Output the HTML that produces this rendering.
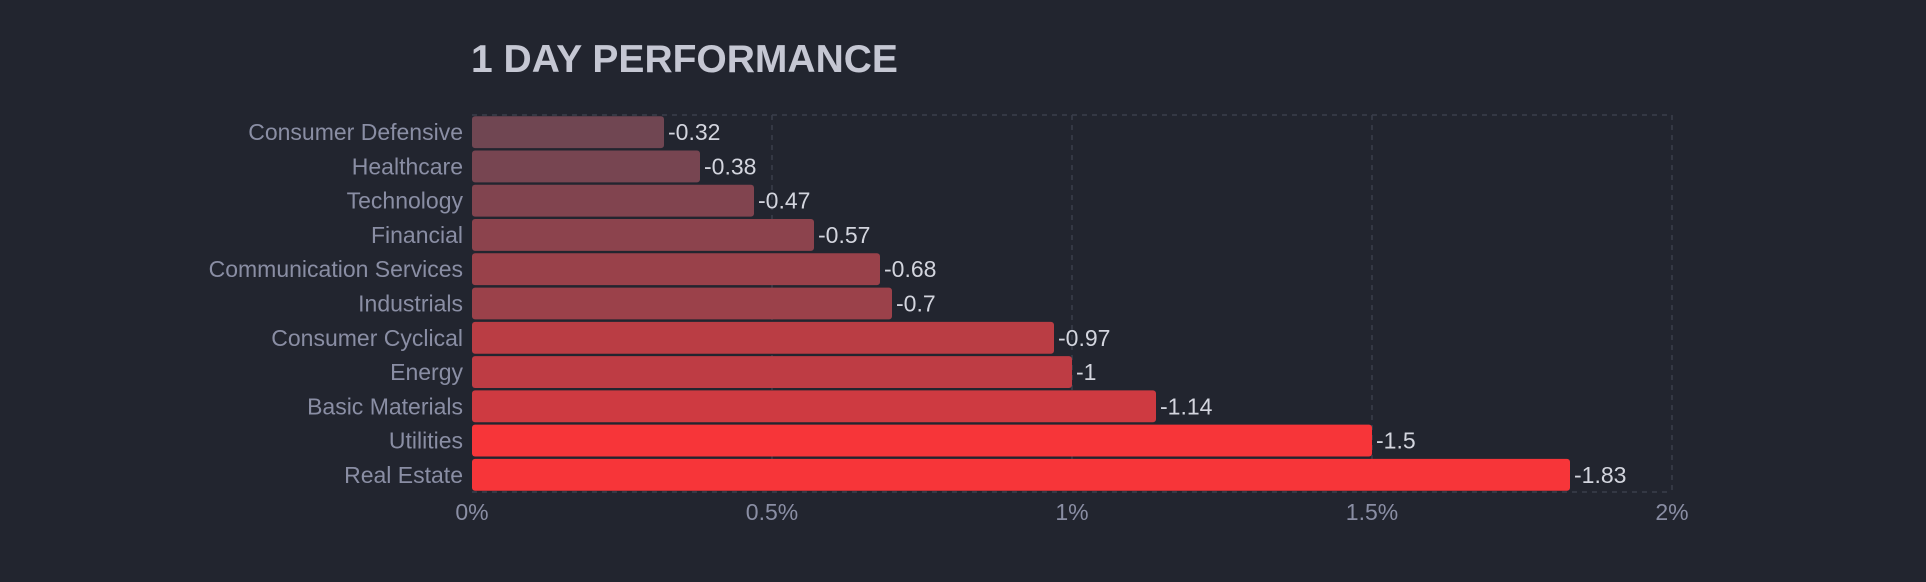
<!DOCTYPE html>
<html><head><meta charset="utf-8"><style>
html,body{margin:0;padding:0;background:#22252f;}
svg{display:block;font-family:"Liberation Sans",sans-serif;}
</style></head><body>
<svg id="chart" width="1926" height="582">
<rect x="0" y="0" width="1926" height="582" fill="#22252f"/>
<text x="471" y="72" font-size="39" font-weight="bold" fill="#c5c7d3">1 DAY PERFORMANCE</text>
<g id="grid"></g><g id="bars"></g><g id="labels"></g><g id="ticks"></g>
</svg>
<script>
const categories = ["Consumer Defensive","Healthcare","Technology","Financial","Communication Services","Industrials","Consumer Cyclical","Energy","Basic Materials","Utilities","Real Estate"];
const values = [-0.32,-0.38,-0.47,-0.57,-0.68,-0.7,-0.97,-1,-1.14,-1.5,-1.83];
const tickValues = [0,0.5,1,1.5,2];
const tickLabels = ["0%","0.5%","1%","1.5%","2%"];

const NS="http://www.w3.org/2000/svg";
const X0=472,X1=1672,Y0=115,Y1=492,MAXV=2;
const band=(Y1-Y0)/categories.length;
function xs(v){return X0+(v/MAXV)*(X1-X0);}
function ys(i){return Y0+i*band;}
function color(v){const t=Math.min(Math.abs(v)/1.5,1);
 const a=[75,75,89],b=[247,53,57];
 return "rgb("+a.map((c,k)=>Math.round(c+t*(b[k]-c))).join(",")+")";}
function mk(tag,attrs,parent){const e=document.createElementNS(NS,tag);for(const k in attrs)e.setAttribute(k,attrs[k]);parent.appendChild(e);return e;}
const gridG=document.getElementById('grid'),barsG=document.getElementById('bars'),labelsG=document.getElementById('labels'),ticksG=document.getElementById('ticks');
tickValues.forEach((tv,i)=>{
 if(tv>0){const l=mk('line',{x1:xs(tv),x2:xs(tv),y1:Y0,y2:Y1,stroke:'#3a3e4c','stroke-width':1.5,'stroke-dasharray':'5,5'},gridG);
 
 }
 const t=mk('text',{x:xs(tv),y:520,'font-size':23,fill:'#8a8ea4','text-anchor':'middle'},ticksG);
 t.textContent=tickLabels[i];
 
 
});
const plotTop=mk('line',{x1:X0,x2:X1,y1:Y0,y2:Y0,stroke:'#3a3e4c','stroke-width':1.5,'stroke-dasharray':'5,5'},gridG);


const plotBot=mk('line',{x1:X0,x2:X1,y1:Y1,y2:Y1,stroke:'#3a3e4c','stroke-width':1.5,'stroke-dasharray':'5,5'},gridG);


categories.forEach((c,i)=>{
 const v=values[i],y=ys(i)+1.2,h=band-2.4,cy=ys(i)+band/2;
 const r=mk('rect',{x:X0,y:y,width:xs(Math.abs(v))-X0,height:h,rx:3,fill:color(v)},barsG);
 
 
 const l=mk('text',{x:X0-9,y:cy+8,'font-size':23,fill:'#8a8ea4','text-anchor':'end'},labelsG);
 l.textContent=c;
 
 
 const vl=mk('text',{x:xs(Math.abs(v))+4,y:cy+8,'font-size':23,fill:'#d3d5de'},labelsG);
 vl.textContent=String(v);
 
 
});
</script>
</body></html>
